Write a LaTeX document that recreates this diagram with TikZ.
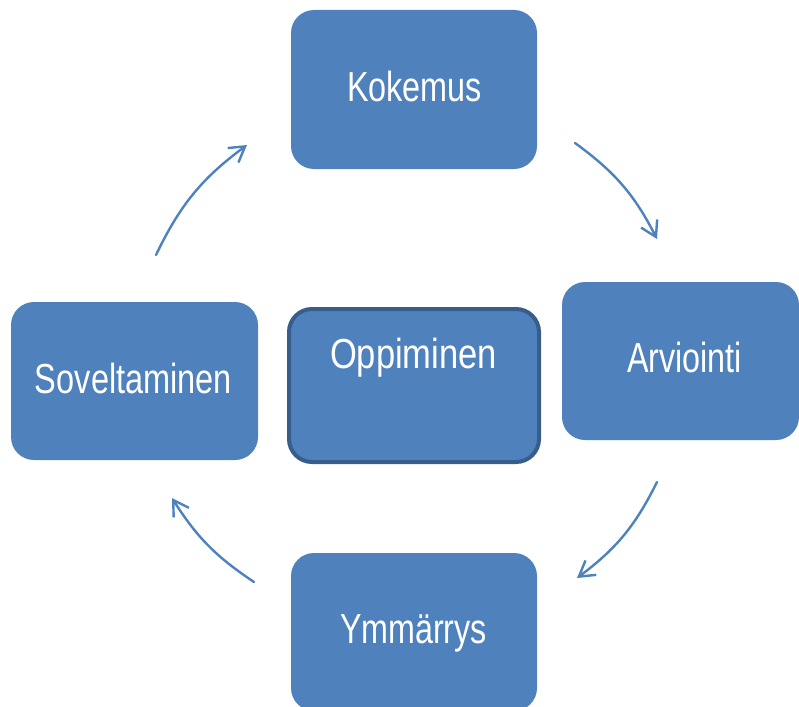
\documentclass[tikz,border=0pt]{standalone}
\usepackage{fontspec}
\setmainfont{Liberation Sans}
\usetikzlibrary{arrows.meta}
\definecolor{boxblue}{HTML}{4F81BD}
\definecolor{boxedge}{HTML}{385D8A}
\begin{document}
\begin{tikzpicture}[x=1pt,y=-1pt,
  box/.style={rectangle, fill=boxblue, draw=none, rounded corners=23pt, inner sep=0pt, outer sep=0pt},
  centerbox/.style={box, draw=boxedge, line width=4pt},
  lab/.style={text=white, font=\fontsize{42}{50}\selectfont, anchor=base, inner sep=0pt},
  cyc/.style={draw=boxblue, line width=2.4pt, line cap=round, line join=round,
    -{Straight Barb[length=15pt,width=18pt,line width=2.4pt]}}]
\useasboundingbox (0,0) rectangle (799,706);
\clip (0,0) rectangle (799,706);
% boxes
\node[box, minimum width=246pt, minimum height=159pt] (kok) at (414,89.5) {};
\node[box, minimum width=237pt, minimum height=158pt] (arv) at (680.5,361) {};
\node[box, minimum width=246pt, minimum height=158pt] (ymm) at (414,632) {};
\node[box, minimum width=247pt, minimum height=158pt] (sov) at (134.5,381) {};
\node[centerbox, minimum width=250pt, minimum height=153pt] (opp) at (414,385.5) {};
% labels
\node[lab] (tkok) at (414.5,102) {\resizebox{135pt}{\height}{Kokemus}};
\node[lab] (topp) at (413.5,368) {\resizebox{167pt}{\height}{Oppiminen}};
\node[lab] (tarv) at (684.5,372) {\resizebox{115pt}{\height}{Arviointi}};
\node[lab] (tymm) at (413.5,643) {\resizebox{147pt}{\height}{Ymmärrys}};
\node[lab] (tsov) at (133.5,393) {\resizebox{197pt}{\height}{Soveltaminen}};
% cycle arrows
\coordinate (a1) at (575,143);
\coordinate (a2) at (657,239);
\coordinate (b1) at (657,482);
\coordinate (b2) at (577,578);
\coordinate (c1) at (254,582);
\coordinate (c2) at (172,498);
\coordinate (d1) at (156,255);
\coordinate (d2) at (247,145);
\draw[cyc] (a1) to[bend left=13.5] (a2);
\draw[cyc] (b1) to[bend left=13.5] (b2);
\draw[cyc] (c1) to[bend left=12] (c2);
\draw[cyc] (d1) to[bend left=14] (d2);
\end{tikzpicture}
\end{document}
